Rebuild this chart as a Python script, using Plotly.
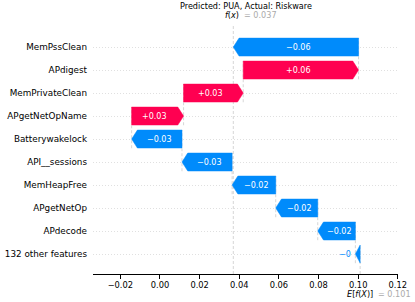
import plotly.graph_objects as go

# ---- data (top row first, as shown) ----
features = ["MemPssClean", "APdigest", "MemPrivateClean", "APgetNetOpName",
            "Batterywakelock", "API__sessions", "MemHeapFree", "APgetNetOp",
            "APdecode", "132 other features"]
shap_values = [-0.0632, 0.0582, 0.0301, 0.0262, -0.0254, -0.0253,
               -0.0220, -0.0212, -0.0190, -0.0024]
bar_labels = ["\u22120.06", "+0.06", "+0.03", "+0.03", "\u22120.03", "\u22120.03",
              "\u22120.02", "\u22120.02", "\u22120.02", "\u22120"]
label_inside = [True, True, True, True, True, True, True, True, True, False]
base_value = 0.101
fx_value = 0.037
title_text = "Predicted: PUA, Actual: Riskware"
x_ticks = [-0.02, 0.00, 0.02, 0.04, 0.06, 0.08, 0.10, 0.12]
x_ticktext = ["\u22120.02", "0.00", "0.02", "0.04", "0.06", "0.08", "0.10", "0.12"]

RED = "#ff0051"
BLUE = "#008bfb"
FONT = "DejaVu Sans"

n = len(features)
# bottom-up order
feat_b = features[::-1]
vals_b = shap_values[::-1]
labs_b = bar_labels[::-1]
inside_b = label_inside[::-1]

starts, ends = [], []
cur = base_value
for v in vals_b:
    starts.append(cur)
    cur = cur + v
    ends.append(cur)

fig = go.Figure()

HL = 0.0029   # arrow head length (data units)
H = 0.39      # half bar height (rows)

# connector dashed lines
cx, cy = [], []
for i in range(1, n):
    loc = starts[i]
    cx += [loc, loc, None]
    cy += [i - 1 - 0.4, i + 0.4, None]
fig.add_trace(go.Scatter(x=cx, y=cy, mode="lines",
                         line=dict(color="#bbbbbb", width=0.6, dash="3px,2px"),
                         hoverinfo="skip", showlegend=False))

for i in range(n):
    a, b = starts[i], ends[i]
    d = b - a
    hl = min(HL, abs(d))
    if d >= 0:
        xs = [a, b - hl, b, b - hl, a, a]
        col = RED
        body_c = (a + b - hl) / 2
    else:
        xs = [a, b + hl, b, b + hl, a, a]
        col = BLUE
        body_c = (a + b + hl) / 2
    ys = [i - H, i - H, i, i + H, i + H, i - H]
    fig.add_trace(go.Scatter(x=xs, y=ys, mode="lines", fill="toself",
                             fillcolor=col, line=dict(color=col, width=0.5),
                             hoverinfo="skip", showlegend=False))
    if inside_b[i]:
        fig.add_annotation(x=body_c, y=i, text=labs_b[i], showarrow=False,
                           font=dict(family=FONT, size=8, color="white"))
    else:
        edge = min(a, b)
        fig.add_annotation(x=edge, y=i, text=labs_b[i], showarrow=False,
                           xanchor="right", xshift=-2,
                           font=dict(family=FONT, size=8, color=BLUE))

# f(x) vertical line (full height) and E[f(X)] short line
fig.add_shape(type="line", x0=fx_value, x1=fx_value, y0=0, y1=1, yref="paper",
              line=dict(color="#bbbbbb", width=0.6, dash="3px,2px"), layer="below")
fig.add_shape(type="line", x0=base_value, x1=base_value, y0=-0.87, y1=0.4,
              line=dict(color="#bbbbbb", width=0.6, dash="3px,2px"), layer="below")

# top labels
fig.add_annotation(x=0.5, xref="paper", y=1, yref="paper", yanchor="bottom",
                   yshift=12, text=title_text, showarrow=False,
                   font=dict(family=FONT, size=8.1, color="black"))
fig.add_annotation(x=fx_value, y=1, yref="paper", yanchor="bottom", xanchor="right",
                   xshift=8, yshift=3, text="<i>f</i>(<i>x</i>)", showarrow=False,
                   font=dict(family=FONT, size=8.1, color="black"))
fig.add_annotation(x=fx_value, y=1, yref="paper", yanchor="bottom", xanchor="left",
                   xshift=9, yshift=3, text="= 0.037", showarrow=False,
                   font=dict(family=FONT, size=8.1, color="#aaaaaa"))
# bottom labels
fig.add_annotation(x=base_value, y=0, yref="paper", yanchor="top", xanchor="center",
                   yshift=-13, text="<i>E</i>[<i>f</i>(<i>X</i>)]", showarrow=False,
                   font=dict(family=FONT, size=8.1, color="black"))
fig.add_annotation(x=base_value, y=0, yref="paper", yanchor="top", xanchor="left",
                   xshift=16, yshift=-13, text="= 0.101", showarrow=False,
                   font=dict(family=FONT, size=8.1, color="#aaaaaa"))

fig.update_layout(
    width=415, height=302,
    margin=dict(l=93, r=17, t=25, b=28),
    paper_bgcolor="white", plot_bgcolor="white",
    font=dict(family=FONT, size=9, color="black"),
    showlegend=False,
)
fig.update_xaxes(range=[-0.0338, 0.1201], tickvals=x_ticks, ticktext=x_ticktext,
                 showline=True, linecolor="black", linewidth=1,
                 ticks="outside", ticklen=3.5, tickcolor="black",
                 showgrid=False, zeroline=False, automargin=False,
                 tickfont=dict(family=FONT, size=8.3, color="black"))
fig.update_yaxes(range=[-0.87, 9.96], tickvals=list(range(n)), ticktext=feat_b,
                 showline=False, ticks="", showgrid=True, gridcolor="#cccccc",
                 gridwidth=0.6, griddash="1px,2px", zeroline=False,
                 ticklabelstandoff=5, automargin=False,
                 tickfont=dict(family=FONT, size=8.8, color="black"))

# remove the browser's default 8px body margin so the figure sits at the page origin
fig.write_html("out.html",
               config={"displayModeBar": False, "staticPlot": True},
               post_script="document.body.style.margin='0px';")
